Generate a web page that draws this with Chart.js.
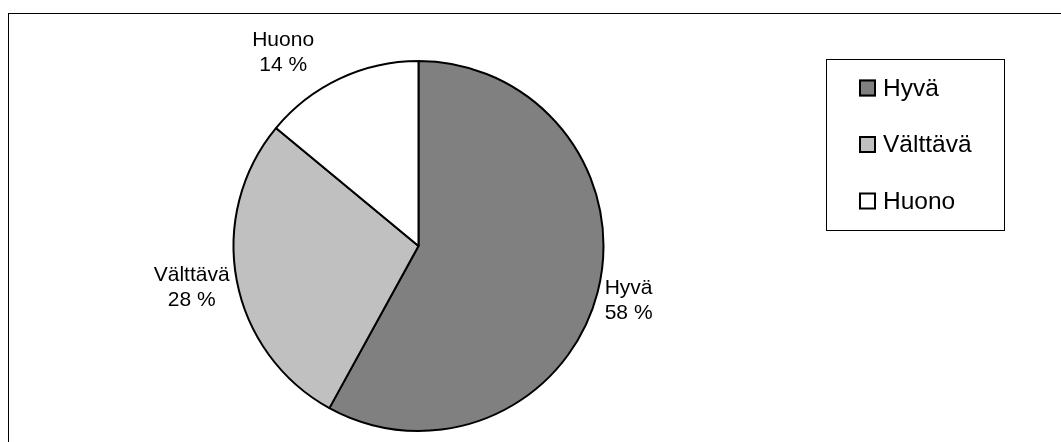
<!DOCTYPE html>
<html>
<head>
<meta charset="utf-8">
<script src="https://cdn.jsdelivr.net/npm/chart.js@4/dist/chart.umd.min.js"></script>
<style>
    html, body { margin: 0; padding: 0; background: #fff; }
    #wrap { position: relative; width: 1061px; height: 442px; overflow: hidden; }
    #frame { position: absolute; left: 8px; top: 13px; width: 1200px; height: 600px; border: 1px solid #000; }
    #chart { position: absolute; left: 0; top: 0; }
</style>
</head>
<body>
<div id="wrap">
    <div id="frame"></div>
    <canvas id="chart" width="1061" height="442"></canvas>
</div>
<script>
const labels = ["Hyvä", "Välttävä", "Huono"];
const shares = [58, 28, 14];

const FONT = "Arial, 'Liberation Sans', sans-serif";

// percentage labels outside the slices, two lines each
const sliceLabels = {
    id: "sliceLabels",
    afterDatasetsDraw(chart, args, opts) {
        const ctx = chart.ctx;
        const meta = chart.getDatasetMeta(0);
        const total = shares.reduce((a, b) => a + b, 0);
        ctx.save();
        ctx.font = opts.font;
        ctx.fillStyle = "#000";
        ctx.textAlign = "center";
        ctx.textBaseline = "middle";
        meta.data.forEach((arc, i) => {
            const p = arc.getProps(["x", "y", "startAngle", "endAngle", "outerRadius"], true);
            const mid = (p.startAngle + p.endAngle) / 2;
            const dx = Math.cos(mid), dy = Math.sin(mid);
            const lines = [labels[i], Math.round(shares[i] / total * 100) + " %"];
            const w = Math.max(...lines.map(l => ctx.measureText(l).width));
            const h = lines.length * opts.lineHeight;
            const nudge = opts.nudge[i] || [0, 0];
            const r = p.outerRadius + opts.gap;
            const cx = p.x + dx * r + dx * w / 2 + nudge[0];
            const cy = p.y + dy * r + dy * h / 2 + nudge[1];
            lines.forEach((line, j) => {
                ctx.fillText(line, cx, cy - h / 2 + opts.lineHeight * (j + 0.5));
            });
        });
        ctx.restore();
    }
};

// legend in a framed box at the right
const boxedLegend = {
    id: "boxedLegend",
    afterDraw(chart, args, opts) {
        const ctx = chart.ctx;
        const ds = chart.data.datasets[0];
        ctx.save();
        ctx.strokeStyle = "#000";
        ctx.lineWidth = 1;
        ctx.strokeRect(opts.left + 0.5, opts.top + 0.5, opts.width, opts.height);
        ctx.font = opts.font;
        ctx.textBaseline = "middle";
        ctx.textAlign = "left";
        const s = opts.box;
        chart.data.labels.forEach((text, i) => {
            const y = opts.top + opts.firstRow + i * opts.rowGap;
            const x = opts.left + opts.boxLeft;
            ctx.fillStyle = ds.backgroundColor[i];
            ctx.fillRect(x, y - s / 2, s, s);
            ctx.lineWidth = 2;
            ctx.strokeRect(x + 1, y - s / 2 + 1, s - 2, s - 2);
            ctx.fillStyle = "#000";
            ctx.fillText(text, x + s + opts.textGap, y + 1);
        });
        ctx.restore();
    }
};

new Chart(document.getElementById("chart"), {
    type: "pie",
    data: {
        labels: labels,
        datasets: [{
            data: shares,
            backgroundColor: ["#808080", "#c0c0c0", "#ffffff"],
            borderColor: "#000",
            borderWidth: 2,
            hoverOffset: 0,
        }]
    },
    options: {
        responsive: false,
        animation: false,
        events: [],
        radius: 185,
        layout: { padding: { top: 61, bottom: 11, left: 0, right: 224 } },
        plugins: {
            legend: { display: false },
            tooltip: { enabled: false },
            sliceLabels: {
                font: "21px " + FONT,
                lineHeight: 25,
                gap: 8,
                nudge: [[0, 0], [0, 1], [-40, 4]],
            },
            boxedLegend: {
                left: 826, top: 59, width: 178, height: 171,
                firstRow: 29, rowGap: 56.5,
                boxLeft: 33, box: 17, textGap: 7,
                font: "24.5px " + FONT,
            },
        }
    },
    plugins: [sliceLabels, boxedLegend]
});
</script>
</body>
</html>
